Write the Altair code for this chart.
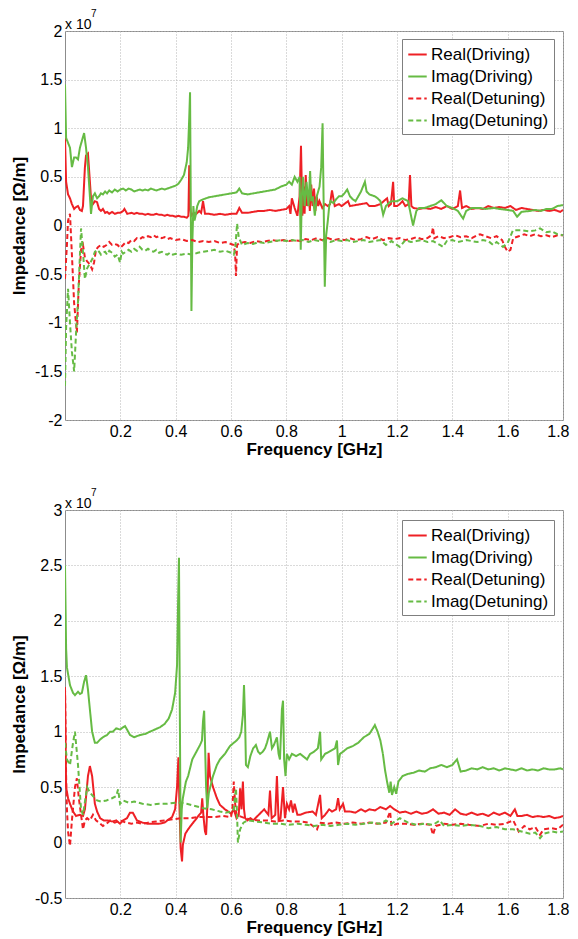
import altair as alt
import pandas as pd

SERIES = ["Real(Driving)", "Imag(Driving)", "Real(Detuning)", "Imag(Detuning)"]
COLORS = ["#ee2025", "#66bb44", "#ee2025", "#66bb44"]
DASHES = [[1, 0], [1, 0], [5, 3], [5, 3]]
XTICKS = [0.2, 0.4, 0.6, 0.8, 1, 1.2, 1.4, 1.6, 1.8]
YTICKS_TOP = [-2, -1.5, -1, -0.5, 0, 0.5, 1, 1.5, 2]
YTICKS_BOT = [-0.5, 0, 0.5, 1, 1.5, 2, 2.5, 3]

# ---------------- top panel (values in 1e7 Ohm/m) ----------------
t_rd_f = [0, 0.004, 0.011, 0.018, 0.025, 0.033, 0.040, 0.047, 0.054, 0.061, 0.065, 0.072, 0.076, 0.083, 0.090, 0.094,
          0.101, 0.108, 0.116, 0.123, 0.130, 0.137, 0.145, 0.152, 0.160, 0.170, 0.180, 0.190, 0.200, 0.210, 0.215,
          0.225, 0.24, 0.25, 0.26, 0.27, 0.28, 0.29, 0.30, 0.31, 0.32, 0.33, 0.34, 0.35, 0.36, 0.37, 0.38, 0.39, 0.40,
          0.41, 0.42, 0.43, 0.44, 0.446, 0.449, 0.452, 0.456, 0.465, 0.475, 0.485, 0.492, 0.499, 0.506, 0.52, 0.54,
          0.56, 0.58, 0.60, 0.62, 0.63, 0.64, 0.66, 0.68, 0.70, 0.72, 0.74, 0.76, 0.78, 0.80, 0.81, 0.815, 0.82, 0.83,
          0.84, 0.848, 0.853, 0.858, 0.862, 0.866, 0.870, 0.875, 0.880, 0.885, 0.890, 0.895, 0.900, 0.905, 0.910,
          0.915, 0.920, 0.930, 0.94, 0.95, 0.958, 0.965, 0.975, 0.99, 1.00, 1.023, 1.03, 1.05, 1.07, 1.09, 1.10, 1.12,
          1.14, 1.164, 1.17, 1.178, 1.186, 1.19, 1.20, 1.21, 1.22, 1.23, 1.242, 1.247, 1.252, 1.26, 1.28, 1.30, 1.32,
          1.34, 1.36, 1.38, 1.40, 1.42, 1.428, 1.435, 1.45, 1.47, 1.49, 1.51, 1.53, 1.55, 1.57, 1.59, 1.61, 1.63, 1.65,
          1.67, 1.69, 1.71, 1.73, 1.75, 1.77, 1.79, 1.80]
t_rd_v = [0.90, 0.45, 0.32, 0.28, 0.22, 0.17, 0.19, 0.20, 0.16, 0.15, 0.20, 0.60, 0.72, 0.74, 0.45, 0.28,
          0.22, 0.25, 0.24, 0.17, 0.15, 0.17, 0.13, 0.14, 0.12, 0.14, 0.12, 0.13, 0.13, 0.15, 0.17,
          0.12, 0.13, 0.12, 0.13, 0.12, 0.12, 0.11, 0.12, 0.11, 0.11, 0.12, 0.11, 0.11, 0.10, 0.11, 0.10, 0.10, 0.09,
          0.10, 0.09, 0.09, 0.08, 0.10, 0.62, 0.20, 0.10, 0.13, 0.12, 0.15, 0.13, 0.25, 0.12, 0.12, 0.11,
          0.12, 0.11, 0.12, 0.12, 0.18, 0.13, 0.13, 0.14, 0.15, 0.15, 0.16, 0.15, 0.16, 0.17, 0.20, 0.12, 0.28, 0.18,
          0.10, 0.30, 0.82, 0.10, 0.40, 0.12, 0.52, 0.20, 0.35, 0.15, 0.42, 0.20, 0.38, 0.15, 0.30,
          0.20, 0.25, 0.18, 0.22, 0.20, 0.22, 0.36, 0.20, 0.22, 0.20, 0.25, 0.20, 0.21, 0.22, 0.23, 0.20, 0.20,
          0.22, 0.28, 0.20, 0.22, 0.45, 0.20, 0.20, 0.22, 0.25, 0.20, 0.22, 0.52, 0.20, 0.18, 0.17, 0.18, 0.17,
          0.19, 0.17, 0.20, 0.17, 0.20, 0.36, 0.18, 0.20, 0.17, 0.18, 0.17, 0.20, 0.18, 0.19, 0.18, 0.20, 0.16, 0.18,
          0.17, 0.16, 0.15, 0.16, 0.15, 0.16, 0.14, 0.16]

t_id_f = [0, 0.004, 0.011, 0.018, 0.025, 0.033, 0.040, 0.047, 0.054, 0.069, 0.076, 0.083, 0.090, 0.094, 0.101,
          0.108, 0.116, 0.123, 0.130, 0.137, 0.145, 0.152, 0.160, 0.17, 0.18, 0.19, 0.20, 0.21, 0.22, 0.23, 0.24,
          0.25, 0.26, 0.27, 0.28, 0.29, 0.30, 0.31, 0.32, 0.33, 0.34, 0.35, 0.36, 0.37, 0.38, 0.39, 0.40, 0.41, 0.42,
          0.43, 0.44, 0.445, 0.449, 0.452, 0.454, 0.457, 0.460, 0.464, 0.468, 0.472, 0.478, 0.485, 0.50, 0.52, 0.54,
          0.56, 0.58, 0.60, 0.62, 0.63, 0.64, 0.66, 0.68, 0.70, 0.72, 0.74, 0.76, 0.78, 0.80, 0.81, 0.82, 0.83, 0.84,
          0.848, 0.852, 0.856, 0.86, 0.866, 0.873, 0.88, 0.886, 0.89, 0.896, 0.903, 0.91, 0.92, 0.926, 0.931, 0.935,
          0.939, 0.944, 0.95, 0.955, 0.96, 0.97, 0.98, 0.99, 1.00, 1.01, 1.02, 1.03, 1.04, 1.05, 1.06, 1.07, 1.084,
          1.09, 1.10, 1.12, 1.13, 1.14, 1.15, 1.16, 1.17, 1.18, 1.20, 1.22, 1.24, 1.258, 1.27, 1.28, 1.30, 1.32, 1.34,
          1.36, 1.38, 1.40, 1.42, 1.439, 1.45, 1.47, 1.50, 1.52, 1.55, 1.57, 1.60, 1.62, 1.634, 1.65, 1.68, 1.70,
          1.72, 1.74, 1.76, 1.78, 1.80]
t_id_v = [1.45, 0.90, 0.85, 0.80, 0.60, 0.70, 0.70, 0.68, 0.80, 0.95, 0.80, 0.60, 0.30, 0.12, 0.30,
          0.33, 0.28, 0.30, 0.33, 0.32, 0.35, 0.33, 0.36, 0.34, 0.37, 0.35, 0.37, 0.38, 0.36, 0.38, 0.37,
          0.35, 0.36, 0.37, 0.36, 0.37, 0.36, 0.38, 0.37, 0.36, 0.37, 0.38, 0.37, 0.38, 0.39, 0.40, 0.41, 0.43, 0.47,
          0.52, 0.65, 0.80, 1.10, 1.37, 0.50, -0.88, -0.20, 0.20, 0.05, 0.10, 0.20, 0.25, 0.27, 0.29, 0.30,
          0.31, 0.32, 0.33, 0.34, 0.38, 0.33, 0.32, 0.33, 0.34, 0.35, 0.36, 0.37, 0.40, 0.42, 0.45, 0.42, 0.50, 0.45,
          0.50, -0.25, 0.30, 0.50, 0.20, 0.45, 0.20, 0.56, 0.25, 0.30, 0.10, 0.30, 0.40, 0.60, 1.05, 0.20,
          -0.63, -0.10, 0.05, 0.20, 0.25, 0.23, 0.27, 0.30, 0.30, 0.33, 0.37, 0.30, 0.27, 0.25, 0.30, 0.35, 0.45,
          0.35, 0.32, 0.30, 0.28, 0.25, 0.11, 0.20, 0.23, 0.25, 0.25, 0.28, 0.25, 0.00, 0.15, 0.18, 0.18, 0.20, 0.22,
          0.26, 0.20, 0.18, 0.15, 0.07, 0.15, 0.18, 0.18, 0.17, 0.18, 0.17, 0.16, 0.15, 0.09, 0.14, 0.15, 0.16,
          0.15, 0.17, 0.17, 0.20, 0.21]

t_rt_f = [0, 0.007, 0.011, 0.018, 0.025, 0.033, 0.043, 0.050, 0.058, 0.065, 0.072, 0.080, 0.090, 0.098, 0.105,
          0.112, 0.12, 0.13, 0.14, 0.15, 0.16, 0.17, 0.18, 0.19, 0.20, 0.21, 0.22, 0.23, 0.24, 0.25, 0.26, 0.27,
          0.28, 0.29, 0.30, 0.31, 0.32, 0.33, 0.34, 0.35, 0.36, 0.37, 0.38, 0.40, 0.42, 0.44, 0.46, 0.48, 0.50, 0.52,
          0.54, 0.56, 0.58, 0.60, 0.61, 0.615, 0.618, 0.622, 0.63, 0.65, 0.67, 0.69, 0.71, 0.73, 0.75, 0.77, 0.79,
          0.81, 0.83, 0.85, 0.87, 0.89, 0.91, 0.93, 0.95, 0.97, 0.99, 1.01, 1.03, 1.05, 1.07, 1.09, 1.11, 1.13, 1.15,
          1.17, 1.19, 1.21, 1.23, 1.25, 1.27, 1.29, 1.31, 1.325, 1.33, 1.335, 1.35, 1.37, 1.39, 1.41, 1.43, 1.45,
          1.47, 1.49, 1.50, 1.52, 1.54, 1.56, 1.58, 1.59, 1.60, 1.61, 1.62, 1.64, 1.66, 1.68, 1.70, 1.72, 1.74, 1.76,
          1.78, 1.80]
t_rt_v = [-0.55, -0.20, 0.05, 0.12, -0.30, -0.80, -1.10, -0.60, -0.25, -0.20, -0.33, -0.37, -0.40, -0.45, -0.38,
          -0.25, -0.22, -0.20, -0.22, -0.20, -0.17, -0.20, -0.19, -0.20, -0.23, -0.20, -0.17, -0.18, -0.15, -0.16,
          -0.13, -0.14, -0.12, -0.13, -0.11, -0.12, -0.10, -0.12, -0.11, -0.13, -0.12, -0.14, -0.13, -0.15, -0.14,
          -0.16, -0.15, -0.17, -0.16, -0.17, -0.16, -0.18, -0.17, -0.19, -0.20, -0.30, -0.52, -0.20, -0.18, -0.17,
          -0.18, -0.16, -0.17, -0.16, -0.15, -0.16, -0.15, -0.16, -0.15, -0.16, -0.14, -0.15, -0.13, -0.15, -0.13,
          -0.15, -0.14, -0.15, -0.13, -0.15, -0.14, -0.12, -0.14, -0.12, -0.15, -0.13, -0.14, -0.13, -0.15, -0.14,
          -0.12, -0.14, -0.13, -0.10, -0.02, -0.13, -0.11, -0.13, -0.12, -0.10, -0.12, -0.11, -0.13, -0.10, -0.09,
          -0.11, -0.13, -0.11, -0.15, -0.22, -0.27, -0.25, -0.13, -0.11, -0.09, -0.11, -0.09, -0.11, -0.10, -0.12,
          -0.10, -0.10]

t_it_f = [0, 0.004, 0.011, 0.018, 0.025, 0.033, 0.040, 0.047, 0.054, 0.058, 0.065, 0.072, 0.080, 0.090, 0.101,
          0.108, 0.116, 0.123, 0.130, 0.137, 0.145, 0.152, 0.160, 0.17, 0.18, 0.19, 0.199, 0.205, 0.21, 0.22, 0.23,
          0.24, 0.25, 0.26, 0.27, 0.28, 0.29, 0.30, 0.31, 0.32, 0.33, 0.34, 0.35, 0.36, 0.37, 0.38, 0.39, 0.40, 0.42,
          0.44, 0.46, 0.48, 0.50, 0.52, 0.54, 0.56, 0.58, 0.60, 0.61, 0.615, 0.622, 0.628, 0.64, 0.66, 0.68, 0.70,
          0.72, 0.74, 0.76, 0.78, 0.80, 0.82, 0.84, 0.86, 0.88, 0.90, 0.92, 0.94, 0.96, 0.98, 1.00, 1.02, 1.04, 1.06,
          1.08, 1.10, 1.12, 1.14, 1.16, 1.18, 1.21, 1.23, 1.25, 1.27, 1.29, 1.31, 1.33, 1.355, 1.366, 1.38, 1.40, 1.42,
          1.45, 1.47, 1.49, 1.51, 1.53, 1.547, 1.56, 1.583, 1.60, 1.619, 1.65, 1.68, 1.70, 1.717, 1.74, 1.76, 1.78, 1.80]
t_it_v = [-1.65, -1.05, -0.65, -1.00, -1.30, -1.50, -1.10, -0.78, -0.30, -0.03, -0.27, -0.55, -0.44, -0.39, -0.33,
          -0.27, -0.25, -0.27, -0.30, -0.28, -0.27, -0.30, -0.26, -0.28, -0.32, -0.30, -0.38, -0.27, -0.29, -0.27,
          -0.25, -0.27, -0.24, -0.26, -0.22, -0.25, -0.26, -0.24, -0.26, -0.27, -0.25, -0.28, -0.27, -0.29, -0.30,
          -0.28, -0.30, -0.29, -0.30, -0.29, -0.30, -0.28, -0.27, -0.26, -0.25, -0.27, -0.26, -0.28, -0.30, -0.25,
          0.02, -0.12, -0.20, -0.18, -0.19, -0.17, -0.18, -0.17, -0.16, -0.15, -0.16, -0.15, -0.16, -0.15, -0.17,
          -0.15, -0.16, -0.15, -0.17, -0.15, -0.16, -0.15, -0.17, -0.16, -0.15, -0.17, -0.16, -0.15, -0.20, -0.16,
          -0.22, -0.15, -0.17, -0.16, -0.15, -0.17, -0.16, -0.20, -0.22, -0.16, -0.15, -0.17, -0.15, -0.16, -0.17,
          -0.15, -0.16, -0.20, -0.17, -0.22, -0.18, -0.05, -0.05, -0.06, -0.05, -0.03, -0.07, -0.06, -0.09, -0.10]

# ---------------- bottom panel (values in 1e7 Ohm/m) ----------------
b_rd_f = [0, 0.004, 0.011, 0.018, 0.029, 0.040, 0.054, 0.065, 0.072, 0.083, 0.090, 0.098, 0.108, 0.116, 0.127,
          0.14, 0.155, 0.17, 0.185, 0.199, 0.21, 0.224, 0.235, 0.245, 0.26, 0.28, 0.30, 0.32, 0.34, 0.36, 0.37, 0.387,
          0.398, 0.405, 0.410, 0.414, 0.418, 0.423, 0.426, 0.435, 0.445, 0.46, 0.47, 0.485, 0.492, 0.496, 0.50,
          0.506, 0.510, 0.514, 0.519, 0.524, 0.535, 0.549, 0.56, 0.578, 0.59, 0.60, 0.61, 0.62, 0.628, 0.633, 0.638,
          0.643, 0.647, 0.651, 0.66, 0.67, 0.68, 0.70, 0.72, 0.735, 0.741, 0.747, 0.76, 0.766, 0.772, 0.779, 0.788,
          0.795, 0.802, 0.81, 0.817, 0.824, 0.83, 0.84, 0.85, 0.87, 0.895, 0.907, 0.922, 0.928, 0.94, 0.955, 0.965,
          0.98, 0.987, 0.993, 1.005, 1.012, 1.03, 1.05, 1.07, 1.085, 1.10, 1.12, 1.14, 1.16, 1.175, 1.19, 1.21, 1.23,
          1.25, 1.27, 1.29, 1.31, 1.33, 1.35, 1.37, 1.39, 1.41, 1.43, 1.45, 1.47, 1.49, 1.51, 1.53, 1.55, 1.57, 1.59,
          1.61, 1.626, 1.635, 1.65, 1.67, 1.69, 1.71, 1.73, 1.75, 1.77, 1.79, 1.80]
b_rd_v = [1.40, 0.50, 0.40, 0.35, 0.28, 0.24, 0.25, 0.24, 0.30, 0.60, 0.69, 0.60, 0.35, 0.28, 0.22,
          0.20, 0.20, 0.19, 0.20, 0.17, 0.20, 0.22, 0.27, 0.27, 0.20, 0.18, 0.17, 0.17, 0.17, 0.18, 0.20, 0.23,
          0.30, 0.50, 0.77, 0.30, -0.05, -0.17, -0.02, 0.08, 0.12, 0.17, 0.20, 0.25, 0.27, 0.40, 0.25,
          0.10, 0.07, 0.30, 0.81, 0.60, 0.50, 0.40, 0.34, 0.30, 0.28, 0.26, 0.30, 0.22, 0.25, 0.49, 0.30,
          0.55, 0.30, 0.22, 0.20, 0.22, 0.20, 0.25, 0.30, 0.25, 0.47, 0.22, 0.25, 0.60, 0.20, 0.22, 0.50,
          0.22, 0.35, 0.30, 0.38, 0.27, 0.35, 0.25, 0.25, 0.27, 0.28, 0.25, 0.43, 0.22, 0.25, 0.30, 0.28,
          0.30, 0.40, 0.30, 0.35, 0.28, 0.28, 0.27, 0.30, 0.28, 0.30, 0.29, 0.32, 0.30, 0.33, 0.30, 0.27, 0.28,
          0.26, 0.28, 0.26, 0.27, 0.30, 0.26, 0.27, 0.25, 0.30, 0.26, 0.25, 0.27, 0.25, 0.26, 0.24, 0.27, 0.25, 0.27,
          0.24, 0.30, 0.24, 0.24, 0.25, 0.23, 0.24, 0.23, 0.24, 0.22, 0.23, 0.24]

b_id_f = [0, 0.004, 0.007, 0.018, 0.029, 0.036, 0.047, 0.054, 0.061, 0.069, 0.076, 0.083, 0.090, 0.098, 0.108,
          0.116, 0.127, 0.137, 0.152, 0.163, 0.173, 0.185, 0.199, 0.21, 0.217, 0.224, 0.235, 0.25, 0.26, 0.271,
          0.29, 0.307, 0.325, 0.343, 0.36, 0.375, 0.387, 0.398, 0.405, 0.409, 0.412, 0.415, 0.418, 0.422, 0.426,
          0.437, 0.445, 0.46, 0.475, 0.488, 0.495, 0.499, 0.503, 0.506, 0.51, 0.514, 0.52, 0.535, 0.549, 0.56, 0.578,
          0.596, 0.61, 0.62, 0.63, 0.637, 0.643, 0.647, 0.651, 0.654, 0.661, 0.67, 0.68, 0.69, 0.698, 0.705, 0.715,
          0.723, 0.73, 0.741, 0.748, 0.755, 0.766, 0.772, 0.777, 0.784, 0.788, 0.792, 0.797, 0.802, 0.81, 0.82,
          0.835, 0.85, 0.86, 0.875, 0.886, 0.90, 0.914, 0.922, 0.926, 0.94, 0.955, 0.976, 0.983, 0.987, 0.994, 1.005,
          1.02, 1.04, 1.06, 1.08, 1.10, 1.113, 1.12, 1.13, 1.14, 1.149, 1.157, 1.164, 1.172, 1.177, 1.182, 1.19,
          1.197, 1.205, 1.22, 1.24, 1.26, 1.28, 1.30, 1.32, 1.34, 1.36, 1.38, 1.40, 1.417, 1.43, 1.45, 1.47, 1.49,
          1.51, 1.53, 1.55, 1.57, 1.59, 1.61, 1.63, 1.65, 1.67, 1.69, 1.71, 1.73, 1.75, 1.77, 1.79, 1.80]
b_id_v = [2.50, 1.75, 1.58, 1.42, 1.35, 1.33, 1.36, 1.34, 1.35, 1.45, 1.51, 1.38, 1.20, 1.00, 0.90,
          0.90, 0.93, 0.95, 0.97, 1.00, 1.00, 1.03, 1.02, 1.04, 1.05, 1.02, 0.97, 0.95, 0.96, 0.97,
          0.98, 1.00, 1.02, 1.04, 1.07, 1.12, 1.20, 1.35, 1.60, 2.20, 2.57, 1.20, 0.00, 0.30, 0.40,
          0.55, 0.60, 0.75, 0.82, 0.88, 0.92, 1.10, 1.19, 0.90, 0.50, 0.31, 0.45, 0.60, 0.70, 0.75, 0.80,
          0.87, 0.90, 0.92, 0.95, 1.00, 1.15, 1.42, 1.10, 0.70, 0.68, 0.78, 0.85, 0.88, 0.82, 0.80, 0.82,
          0.85, 0.90, 1.00, 0.85, 0.88, 0.95, 0.80, 0.75, 1.20, 1.28, 0.75, 0.60, 0.80, 0.75, 0.80,
          0.78, 0.80, 0.78, 0.75, 0.80, 0.82, 0.85, 1.00, 0.75, 0.80, 0.82, 0.85, 0.92, 0.70, 0.80, 0.82,
          0.85, 0.87, 0.90, 0.95, 0.98, 1.03, 1.06, 1.00, 0.92, 0.80, 0.65, 0.55, 0.45, 0.55, 0.43, 0.50,
          0.44, 0.55, 0.60, 0.62, 0.63, 0.65, 0.64, 0.67, 0.68, 0.70, 0.68, 0.70, 0.75, 0.64, 0.65, 0.67, 0.66,
          0.68, 0.66, 0.67, 0.65, 0.67, 0.66, 0.65, 0.67, 0.65, 0.66, 0.65, 0.67, 0.66, 0.66, 0.67, 0.66]

b_rt_f = [0, 0.004, 0.007, 0.011, 0.018, 0.025, 0.036, 0.043, 0.050, 0.058, 0.065, 0.072, 0.080, 0.090, 0.101,
          0.112, 0.123, 0.137, 0.15, 0.163, 0.18, 0.199, 0.22, 0.24, 0.26, 0.28, 0.30, 0.33, 0.36, 0.39, 0.42, 0.45,
          0.48, 0.51, 0.54, 0.57, 0.60, 0.605, 0.610, 0.615, 0.62, 0.63, 0.65, 0.67, 0.70, 0.73, 0.76, 0.79, 0.82,
          0.85, 0.88, 0.911, 0.92, 0.95, 0.98, 1.01, 1.04, 1.07, 1.10, 1.13, 1.16, 1.175, 1.18, 1.20, 1.23, 1.26,
          1.29, 1.32, 1.33, 1.34, 1.37, 1.40, 1.43, 1.46, 1.50, 1.53, 1.56, 1.59, 1.62, 1.64, 1.66, 1.68, 1.70, 1.717,
          1.73, 1.76, 1.78, 1.80]
b_rt_v = [1.40, 0.60, 0.30, 0.10, -0.03, 0.20, 0.50, 0.58, 0.40, 0.25, 0.12, 0.20, 0.22, 0.20, 0.25,
          0.20, 0.18, 0.15, 0.17, 0.20, 0.18, 0.20, 0.18, 0.17, 0.18, 0.17, 0.18, 0.19, 0.20, 0.21, 0.22, 0.22,
          0.23, 0.23, 0.23, 0.24, 0.23, 0.30, 0.55, 0.35, 0.25, 0.24, 0.22, 0.21, 0.20, 0.20, 0.19, 0.20, 0.19,
          0.19, 0.18, 0.12, 0.18, 0.17, 0.18, 0.17, 0.18, 0.17, 0.18, 0.17, 0.18, 0.28, 0.15, 0.17, 0.17, 0.16,
          0.17, 0.16, 0.07, 0.15, 0.17, 0.16, 0.17, 0.16, 0.15, 0.17, 0.16, 0.17, 0.20, 0.10, 0.15, 0.12, 0.14, 0.07,
          0.12, 0.13, 0.12, 0.16]

b_it_f = [0, 0.007, 0.018, 0.029, 0.036, 0.047, 0.058, 0.065, 0.080, 0.090, 0.101, 0.116, 0.13, 0.15, 0.17,
          0.185, 0.192, 0.199, 0.21, 0.23, 0.25, 0.28, 0.31, 0.34, 0.37, 0.40, 0.42, 0.44, 0.47, 0.50, 0.53, 0.56,
          0.58, 0.60, 0.61, 0.618, 0.622, 0.625, 0.633, 0.645, 0.66, 0.69, 0.72, 0.75, 0.78, 0.81, 0.84, 0.87, 0.90,
          0.93, 0.96, 0.99, 1.02, 1.05, 1.08, 1.11, 1.14, 1.16, 1.18, 1.21, 1.24, 1.27, 1.30, 1.33, 1.355, 1.37, 1.40,
          1.43, 1.46, 1.50, 1.53, 1.56, 1.59, 1.62, 1.65, 1.68, 1.70, 1.717, 1.73, 1.76, 1.78, 1.80]
b_it_v = [0.90, 0.75, 0.70, 0.90, 1.00, 0.70, 0.30, 0.25, 0.50, 0.45, 0.42, 0.38, 0.37, 0.38, 0.40,
          0.42, 0.48, 0.35, 0.38, 0.36, 0.37, 0.35, 0.34, 0.35, 0.35, 0.36, 0.36, 0.35, 0.33, 0.31, 0.30, 0.28,
          0.27, 0.28, 0.30, 0.49, 0.25, 0.00, 0.12, 0.18, 0.20, 0.19, 0.18, 0.17, 0.17, 0.16, 0.17, 0.16, 0.15,
          0.16, 0.15, 0.16, 0.17, 0.16, 0.17, 0.18, 0.17, 0.20, 0.17, 0.22, 0.18, 0.16, 0.17, 0.16, 0.20, 0.15, 0.16,
          0.15, 0.16, 0.15, 0.13, 0.14, 0.12, 0.12, 0.10, 0.08, 0.09, 0.04, 0.08, 0.10, 0.09, 0.10]

FONT = "Liberation Sans"


def frame(pairs):
    rows = []
    for name, (fs, vs) in zip(SERIES, pairs):
        for i, (a, b) in enumerate(zip(fs, vs)):
            rows.append({"f": a, "v": b, "series": name, "i": i})
    return pd.DataFrame(rows)


def panel(df, ydom, yticks, height, leg_y):
    leg = alt.Legend(title=None, orient="none", legendX=337, legendY=leg_y, symbolType="stroke",
                     symbolSize=340, symbolStrokeWidth=2, labelFontSize=17, labelFont=FONT,
                     labelColor="black", strokeColor="#7f7f7f", fillColor="white", padding=5,
                     rowPadding=3, labelOffset=3)
    lines = alt.Chart(df).mark_line(strokeWidth=2, clip=True).encode(
        x=alt.X("f:Q", scale=alt.Scale(domain=[0, 1.8], nice=False, zero=False),
                axis=alt.Axis(values=XTICKS, title="Frequency [GHz]", labelExpr="toString(datum.value)",
                              labelFlush=True, labelFlushOffset=6)),
        y=alt.Y("v:Q", scale=alt.Scale(domain=ydom, nice=False, zero=False),
                axis=alt.Axis(values=yticks, title="Impedance [Ω/m]", labelExpr="toString(datum.value)",
                              labelFlush=False)),
        color=alt.Color("series:N", scale=alt.Scale(domain=SERIES, range=COLORS), legend=leg),
        strokeDash=alt.StrokeDash("series:N", scale=alt.Scale(domain=SERIES, range=DASHES), legend=leg),
        order="i:Q",
    )
    base_txt = alt.Chart(pd.DataFrame({"t": ["x 10"]})).mark_text(
        align="left", baseline="alphabetic", fontSize=14, font=FONT, color="black"
    ).encode(text="t:N", x=alt.value(0), y=alt.value(-2))
    exp_txt = alt.Chart(pd.DataFrame({"t": ["7"]})).mark_text(
        align="left", baseline="alphabetic", fontSize=10, font=FONT, color="black"
    ).encode(text="t:N", x=alt.value(26), y=alt.value(-14))
    return alt.layer(lines, base_txt, exp_txt).properties(width=498, height=height)


top = panel(frame([(t_rd_f, t_rd_v), (t_id_f, t_id_v), (t_rt_f, t_rt_v), (t_it_f, t_it_v)]),
            [-2, 2], YTICKS_TOP, 389, 8)
bot = panel(frame([(b_rd_f, b_rd_v), (b_id_f, b_id_v), (b_rt_f, b_rt_v), (b_it_f, b_it_v)]),
            [-0.5, 3], YTICKS_BOT, 388, 10)

chart = alt.vconcat(top, bot, spacing=90, bounds="flush").resolve_scale(
    color="independent", strokeDash="independent", y="independent"
).properties(
    padding={"left": 1, "top": 0, "right": 0, "bottom": 0}
).configure(
    font=FONT
).configure_view(
    stroke="#8c8c8c", strokeWidth=1
).configure_axis(
    domain=False, ticks=False, labelPadding=3, labelFont=FONT, labelFontSize=16, labelColor="black",
    titleFont=FONT, titleFontSize=17, titleFontWeight="bold", titleColor="black",
    gridColor="#b4b4b4", gridDash=[1, 2], gridWidth=1, gridOpacity=1
).configure_axisX(
    labelPadding=3, titlePadding=2
).configure_axisY(
    titlePadding=6
)

chart.save("out.html", embed_options={"renderer": "svg", "actions": False})
